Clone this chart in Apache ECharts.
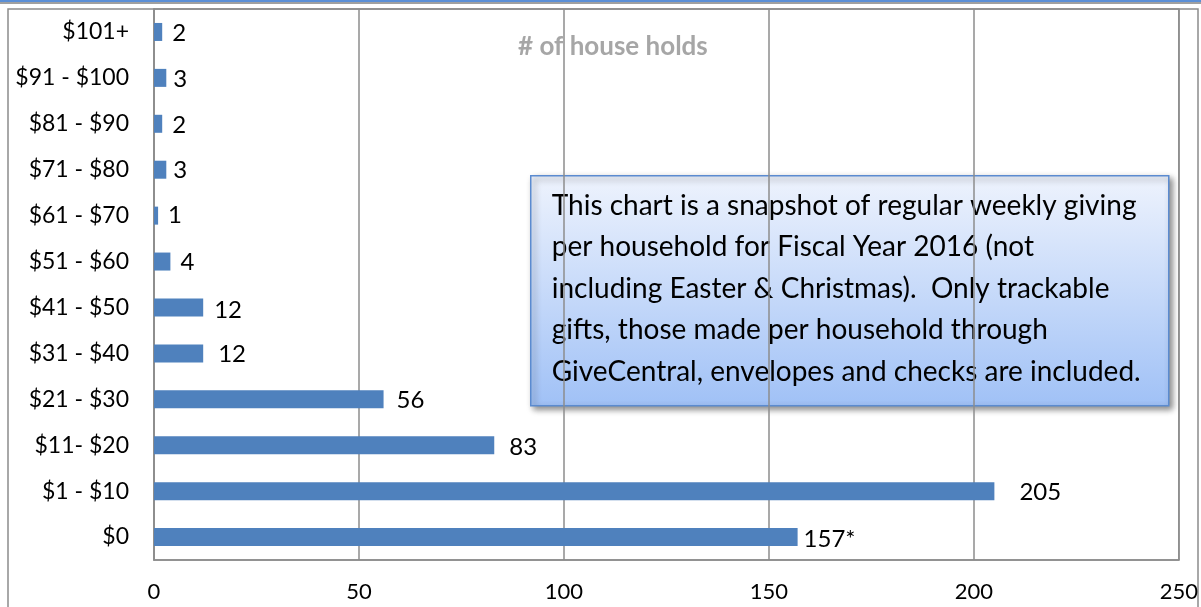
<!DOCTYPE html>
<html><head><meta charset="utf-8">
<script src="https://cdn.jsdelivr.net/npm/echarts@6/dist/echarts.min.js"></script>
<style>html,body{margin:0;padding:0;background:#fff}#c{width:1201px;height:607px}</style>
</head><body><div id="c"></div>
<script>
const categories = ['$0','$1 - $10','$11- $20','$21 - $30','$31 - $40','$41 - $50','$51 - $60','$61 - $70','$71 - $80','$81 - $90','$91 - $100','$101+'];
const households = [157,205,83,56,12,12,4,1,3,2,3,2];
const valueLabels = ['157*','205','83','56','12','12','4','1','3','2','3','2'];
const xTicks = [0,50,100,150,200,250];
const titleText = '# of house holds';
const noteLines = [
  'This chart is a snapshot of regular weekly giving',
  'per household for Fiscal Year 2016 (not',
  'including Easter & Christmas).  Only trackable',
  'gifts, those made per household through',
  'GiveCentral, envelopes and checks are included.'
];
// label nudges (style only): [dx, dy] per bar
const labelNudge = [[-4,2],[15,1],[5,2],[3,1],[5,1],[1,3],[0,1],[0,0],[-3,1],[0,1],[-3,1],[0,1]];

const chart = echarts.init(document.getElementById('c'));
const FONT = 'Lato, "Open Sans", sans-serif';
chart.setOption({
  animation: false,
  textStyle: {fontFamily: FONT},
  title: {
    text: titleText, left: 513, top: 29,
    textStyle: {color: '#a6a6a6', fontSize: 26, fontWeight: 'bold', fontFamily: FONT}
  },
  grid: {left: 154, right: 21, top: 9, bottom: 47, show: true, borderColor: '#8c8c8c', borderWidth: 1.5, containLabel: false},
  xAxis: {
    type: 'value', min: xTicks[0], max: xTicks[xTicks.length-1], interval: 50,
    axisLine: {show: true, lineStyle: {color: '#8c8c8c', width: 1.5}},
    axisTick: {show: false},
    splitLine: {show: true, lineStyle: {color: '#8c8c8c', width: 1.5}},
    axisLabel: {color: '#000', fontSize: 22, margin: 21, fontFamily: FONT}
  },
  yAxis: {
    type: 'category', data: categories,
    axisLine: {show: true, lineStyle: {color: '#8c8c8c', width: 1.5}},
    axisTick: {show: false},
    axisLabel: {color: '#000', fontSize: 23, margin: 25, fontFamily: FONT}
  },
  series: [{
    type: 'bar', barWidth: 18,
    data: households.map((v, i) => ({value: v, label: {offset: labelNudge[i]}})),
    itemStyle: {color: '#4f81bd'},
    label: {
      show: true, position: 'right', distance: 10, color: '#000', fontSize: 24, fontFamily: FONT,
      formatter: p => valueLabels[p.dataIndex]
    }
  }],
  graphic: [
    {type: 'rect', shape: {x: 8, y: 9, width: 1190, height: 620}, style: {fill: 'none', stroke: '#8c8c8c', lineWidth: 1.5}, z: 0},
    {type: 'rect', shape: {x: 0, y: 0, width: 1201, height: 2}, style: {fill: '#5b8fd6'}},
    {type: 'rect', shape: {x: 0, y: 2, width: 1201, height: 2}, style: {fill: '#a0a0a0'}},
    {type: 'group', left: 530, top: 175, z: 100, children: [
      {type: 'rect', shape: {x: 0, y: 0, width: 638, height: 230},
       style: {
         fill: new echarts.graphic.LinearGradient(0,0,0,1,[{offset:0,color:'#eef3fd'},{offset:1,color:'#a0c1f6'}]),
         stroke: '#5b8bd0', lineWidth: 1.5,
         shadowBlur: 6, shadowOffsetX: 3, shadowOffsetY: 3, shadowColor: 'rgba(0,0,0,0.45)'
       }},
      {type: 'text', x: 21, y: 9,
       style: {text: noteLines.join('\n'), fill: '#000', font: '28px ' + FONT, lineHeight: 41.5}}
    ]}
  ]
});
</script></body></html>
